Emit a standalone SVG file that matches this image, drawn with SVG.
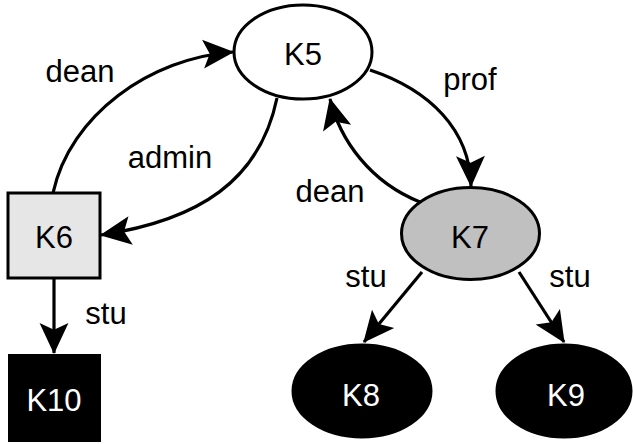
<svg xmlns="http://www.w3.org/2000/svg" width="633" height="444" viewBox="0 0 633 444">
<style>
text{font-family:"Liberation Sans",Arial,Helvetica,sans-serif;font-size:31px;text-anchor:middle;fill:#000}
.node{stroke:#000;stroke-width:3}
.edge{fill:none;stroke:#000;stroke-width:3.2;marker-end:url(#arr)}
.w{fill:#fff}
</style>
<defs>
<marker id="arr" markerUnits="userSpaceOnUse" markerWidth="40" markerHeight="40" viewBox="-32 -16 36 32" refX="0" refY="0" orient="auto">
<path d="M1,0 L-27,-13 L-21,0 L-27,13 Z" fill="#000"/>
</marker>
</defs>
<g id="edges">
<path class="edge" d="M53,193 C70,115 150,58 233,52"/>
<path class="edge" d="M277,98 C260,180 200,220 101,235"/>
<path class="edge" d="M370,70 C430,90 470,130 471,186"/>
<path class="edge" d="M420,202 C370,182 340,140 330,99"/>
<path class="edge" d="M54,278 L54,353"/>
<path class="edge" d="M422,272 L364,342"/>
<path class="edge" d="M519,272 L564,342"/>
<text x="80" y="82">dean</text>
<text x="170" y="168">admin</text>
<text x="470" y="90">prof</text>
<text x="330" y="202">dean</text>
<text x="106" y="324">stu</text>
<text x="366" y="287">stu</text>
<text x="570" y="287">stu</text>
</g>
<g id="K5"><ellipse class="node" cx="303" cy="52" rx="69" ry="47" fill="#fff"/><text x="303" y="65">K5</text></g>
<g id="K6"><rect class="node" x="8" y="193" width="92" height="85" fill="#e6e6e6"/><text x="54" y="248">K6</text></g>
<g id="K7"><ellipse class="node" cx="470.5" cy="233.5" rx="69" ry="46" fill="#c0c0c0"/><text x="470" y="248">K7</text></g>
<g id="K8"><ellipse class="node" cx="362" cy="391" rx="69" ry="46" fill="#000"/><text class="w" x="361" y="406">K8</text></g>
<g id="K9"><ellipse class="node" cx="564" cy="391" rx="67" ry="46" fill="#000"/><text class="w" x="566" y="406">K9</text></g>
<g id="K10"><rect x="8" y="354" width="93" height="88" fill="#000"/><text class="w" x="54" y="411">K10</text></g>
</svg>
